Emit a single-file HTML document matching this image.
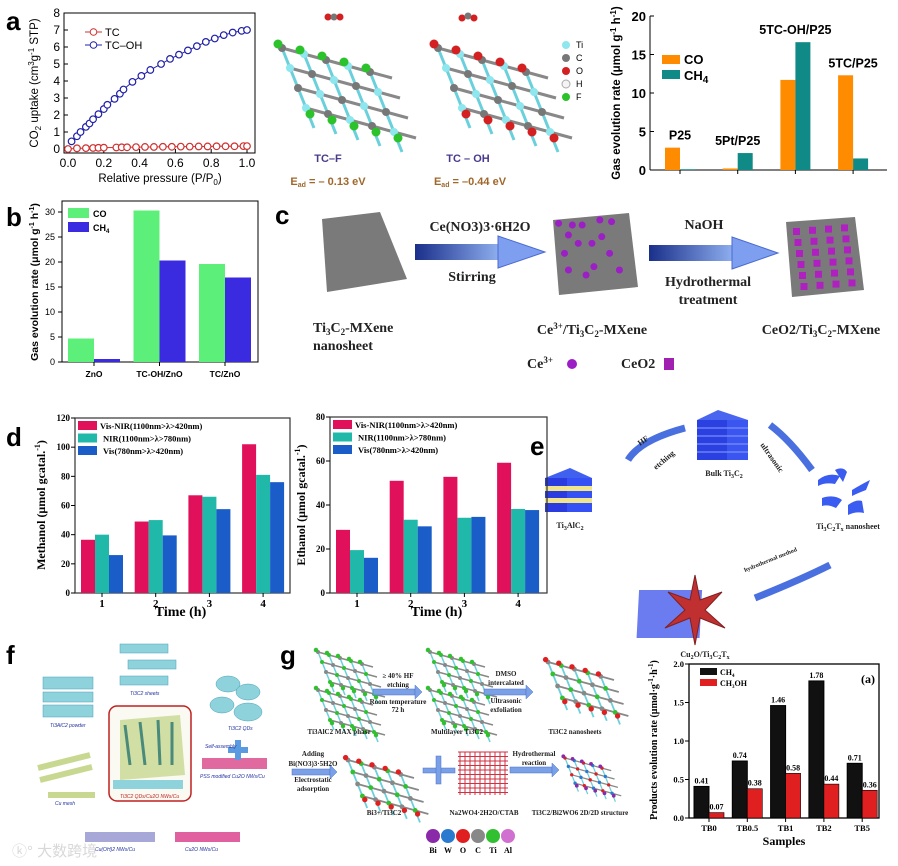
<!DOCTYPE html>
<html><head><meta charset="utf-8">
<style>
html,body{margin:0;padding:0;background:#fff;}
svg{display:block;}
text{font-family:"Liberation Sans","Noto Sans CJK SC",sans-serif;}
.sr,.sr text{font-family:"Liberation Serif","Noto Serif CJK SC",serif;font-weight:bold;}
</style></head>
<body>
<svg id="fig" width="898" height="866" viewBox="0 0 898 866" xmlns="http://www.w3.org/2000/svg">
<defs>
<linearGradient id="arr" x1="0" x2="1"><stop offset="0" stop-color="#1a2f8a"/><stop offset="1" stop-color="#8fb0f0"/></linearGradient>
</defs>
<g font-weight="bold" font-size="26">
<text x="6" y="30">a</text>
<text x="6" y="226">b</text>
<text x="275" y="224">c</text>
<text x="6" y="446">d</text>
<text x="530" y="455">e</text>
<text x="6" y="664">f</text>
<text x="280" y="664">g</text>
</g>
<g id="mol"></g>
<g font-size="9">
<circle cx="566" cy="45" r="4" fill="#8ee6ee"/><text x="576" y="48">Ti</text>
<circle cx="566" cy="58" r="4" fill="#777"/><text x="576" y="61">C</text>
<circle cx="566" cy="71" r="4" fill="#d42020"/><text x="576" y="74">O</text>
<circle cx="566" cy="84" r="4" fill="#f4f4f4" stroke="#aaa"/><text x="576" y="87">H</text>
<circle cx="566" cy="97" r="4" fill="#2bc22b"/><text x="576" y="100">F</text>
</g>
<g font-weight="bold" font-size="11">
<text x="328" y="162" fill="#4a3a8c" text-anchor="middle">TC–F</text>
<text x="328" y="185" fill="#a0662a" text-anchor="middle">E<tspan font-size="7" dy="2">ad</tspan><tspan dy="-2"> = – 0.13 eV</tspan></text>
<text x="468" y="162" fill="#4a3a8c" text-anchor="middle">TC – OH</text>
<text x="470" y="185" fill="#a0662a" text-anchor="middle">E<tspan font-size="7" dy="2">ad</tspan><tspan dy="-2"> = –0.44 eV</tspan></text>
</g>

<g>
<polygon points="322,219 380,212 407,279 327,292" fill="#7a7a7a"/>
<polygon points="553,220 629,213 638,287 559,295" fill="#7a7a7a"/>
<polygon points="786,222 855,217 864,290 792,297" fill="#7a7a7a"/>
<g><rect x="415" y="244" width="85" height="16" fill="url(#arr)"/><polygon points="498,236 545,252 498,268" fill="#7e9ef0" stroke="#4a6ad0"/></g>
<g><rect x="649" y="245" width="85" height="16" fill="url(#arr)"/><polygon points="732,237 778,253 732,269" fill="#7e9ef0" stroke="#4a6ad0"/></g>
<g id="cedots"></g>
<g id="cecubes"></g>
<g class="sr" font-size="14" fill="#222">
<text x="480" y="231" text-anchor="middle">Ce(NO3)3·6H2O</text>
<text x="472" y="281" text-anchor="middle">Stirring</text>
<text x="704" y="229" text-anchor="middle">NaOH</text>
<text x="708" y="286" text-anchor="middle">Hydrothermal</text>
<text x="708" y="304" text-anchor="middle">treatment</text>
<text x="313" y="332">Ti<tspan font-size="9" dy="3">3</tspan><tspan dy="-3">C</tspan><tspan font-size="9" dy="3">2</tspan><tspan dy="-3">-MXene</tspan></text>
<text x="313" y="350">nanosheet</text>
<text x="592" y="334" text-anchor="middle">Ce<tspan font-size="9" dy="-5">3+</tspan><tspan dy="5">/Ti</tspan><tspan font-size="9" dy="3">3</tspan><tspan dy="-3">C</tspan><tspan font-size="9" dy="3">2</tspan><tspan dy="-3">-MXene</tspan></text>
<text x="821" y="334" text-anchor="middle">CeO2/Ti<tspan font-size="9" dy="3">3</tspan><tspan dy="-3">C</tspan><tspan font-size="9" dy="3">2</tspan><tspan dy="-3">-MXene</tspan></text>
<text x="527" y="368">Ce<tspan font-size="9" dy="-5">3+</tspan></text>
<text x="621" y="368">CeO2</text>
</g>
<circle cx="572" cy="364" r="5" fill="#9b1fc4"/>
<rect x="664" y="358" width="10" height="12" fill="#a020b0"/>
</g>

<g>
<g>
<polygon points="545,478 570,468 592,478 567,488" fill="#4060f0"/>
<rect x="545" y="478" width="22" height="34" fill="#2a3ce0"/><rect x="567" y="478" width="25" height="34" fill="#3550f5"/>
<rect x="545" y="486" width="47" height="5" fill="#f0e58a"/><rect x="545" y="498" width="47" height="5" fill="#f0e58a"/>
</g>
<g>
<polygon points="697,420 718,410 748,420 727,430" fill="#4a66f0"/>
<rect x="697" y="420" width="30" height="40" fill="#2a40e0"/><rect x="727" y="420" width="21" height="40" fill="#3a55f0"/>
<line x1="697" y1="428" x2="748" y2="428" stroke="#8aa0ff"/><line x1="697" y1="436" x2="748" y2="436" stroke="#8aa0ff"/><line x1="697" y1="444" x2="748" y2="444" stroke="#8aa0ff"/><line x1="697" y1="452" x2="748" y2="452" stroke="#8aa0ff"/>
</g>
<path d="M628,460 Q640,440 685,428" stroke="#4a70e0" stroke-width="7" fill="none"/>
<path d="M770,425 Q790,440 812,470" stroke="#4a70e0" stroke-width="7" fill="none"/>
<path d="M830,565 Q800,580 755,598" stroke="#4a70e0" stroke-width="7" fill="none"/>
<g fill="#3a5cf0">
<path d="M818,480 q10,-8 22,-4 l-5,8 q-10,-2 -17,2z"/><path d="M835,470 q8,-4 12,2 l-4,10z"/><path d="M852,490 q10,-6 18,-10 l-4,10 q-8,3 -14,6z"/><path d="M822,498 q12,-4 20,2 l-6,8 q-8,-4 -14,-2z"/><path d="M848,505 q8,-6 14,-4 l2,12 q-8,-2 -16,2z"/>
</g>
<rect x="670" y="590" width="63" height="48" fill="#6a7cf0" transform="skewX(-3)"/>
<polygon points="695,575 700,600 722,592 705,610 725,628 700,618 695,645 690,618 665,628 685,610 668,592 690,600" fill="#c03030" stroke="#802020"/>
<g class="sr" font-size="8" fill="#222">
<text x="570" y="528" text-anchor="middle">Ti<tspan font-size="6" dy="2">3</tspan><tspan dy="-2">AlC</tspan><tspan font-size="6" dy="2">2</tspan></text>
<text x="724" y="476" text-anchor="middle">Bulk Ti<tspan font-size="6" dy="2">3</tspan><tspan dy="-2">C</tspan><tspan font-size="6" dy="2">2</tspan></text>
<text x="848" y="529" text-anchor="middle">Ti<tspan font-size="6" dy="2">3</tspan><tspan dy="-2">C</tspan><tspan font-size="6" dy="2">2</tspan><tspan dy="-2">T</tspan><tspan font-size="6" dy="2">x</tspan><tspan dy="-2"> nanosheet</tspan></text>
<text x="705" y="657" text-anchor="middle">Cu<tspan font-size="6" dy="2">2</tspan><tspan dy="-2">O/Ti</tspan><tspan font-size="6" dy="2">3</tspan><tspan dy="-2">C</tspan><tspan font-size="6" dy="2">2</tspan><tspan dy="-2">T</tspan><tspan font-size="6" dy="2">x</tspan></text>
<text x="640" y="446" transform="rotate(-35 640 446)">HF</text>
<text x="656" y="470" transform="rotate(-40 656 470)">etching</text>
<text x="760" y="445" transform="rotate(55 760 445)">ultrasonic</text>
<text x="745" y="572" transform="rotate(-22 745 572)" font-size="6">hydrothermal method</text>
</g>
</g>

<g>
<g fill="#8ed3dc" stroke="#4aa0b8" stroke-width="0.5">
<rect x="43" y="677" width="50" height="12"/><rect x="43" y="692" width="50" height="10"/><rect x="43" y="705" width="50" height="12"/>
<rect x="120" y="644" width="48" height="9"/><rect x="128" y="660" width="48" height="9"/><rect x="120" y="676" width="48" height="9"/>
<ellipse cx="228" cy="684" rx="12" ry="8"/><ellipse cx="248" cy="692" rx="12" ry="8"/><ellipse cx="222" cy="705" rx="12" ry="8"/><ellipse cx="248" cy="712" rx="14" ry="9"/>
</g>
<rect x="109" y="706" width="82" height="95" rx="8" fill="#fafaf2" stroke="#c02020" stroke-width="1.5"/>
<polygon points="120,720 180,715 185,775 120,780" fill="#c8d890" opacity="0.8"/>
<g stroke="#4a8a7a" stroke-width="3"><line x1="130" y1="765" x2="125" y2="725"/><line x1="145" y1="765" x2="140" y2="722"/><line x1="160" y1="765" x2="158" y2="720"/><line x1="172" y1="765" x2="172" y2="722"/></g>
<rect x="113" y="780" width="70" height="9" fill="#8ed3dc"/>
<g stroke="#c8d890" stroke-width="6"><line x1="38" y1="768" x2="90" y2="755"/><line x1="40" y1="780" x2="92" y2="767"/><line x1="48" y1="795" x2="95" y2="795"/></g>
<rect x="202" y="758" width="65" height="11" fill="#e06aa0"/>
<rect x="85" y="832" width="70" height="10" fill="#a8a8d8"/><rect x="175" y="832" width="65" height="10" fill="#e060a0"/>
<rect x="235" y="740" width="6" height="20" fill="#5a9ae0"/><rect x="228" y="747" width="20" height="6" fill="#5a9ae0"/>
<g font-size="5" fill="#2030a0" font-style="italic">
<text x="50" y="727">Ti3AlC2 powder</text><text x="130" y="695">Ti3C2 sheets</text><text x="228" y="730">Ti3C2 QDs</text>
<text x="120" y="798" fill="#c02020">Ti3C2 QDs/Cu2O NWs/Cu</text><text x="200" y="778">PSS modified Cu2O NWs/Cu</text>
<text x="55" y="805">Cu mesh</text><text x="95" y="851">Cu(OH)2 NWs/Cu</text><text x="185" y="851">Cu2O NWs/Cu</text><text x="205" y="748">Self-assembly</text>
</g>
<text x="12" y="856" font-size="15" fill="#d8d8d8">ⓚ° 大数跨境</text>
</g>

<g>
<g id="gmol"></g>
<g fill="#7aa0e8" stroke="#4a70c8" stroke-width="0.5">
<rect x="373" y="689" width="42" height="6"/><polygon points="415,685 422,692 415,699"/>
<rect x="484" y="689" width="42" height="6"/><polygon points="526,685 533,692 526,699"/>
<rect x="292" y="769" width="38" height="6"/><polygon points="330,765 337,772 330,779"/>
<rect x="510" y="767" width="42" height="6"/><polygon points="552,763 559,770 552,777"/>
<rect x="423" y="768" width="32" height="5"/><rect x="436" y="756" width="5" height="28"/>
</g>
<g class="sr" font-size="7" fill="#222" text-anchor="middle">
<text x="398" y="678">≥ 40% HF</text><text x="398" y="687">etching</text><text x="398" y="704">Room temperature</text><text x="398" y="712">72 h</text>
<text x="506" y="676">DMSO</text><text x="506" y="685">intercalated</text><text x="506" y="703">Ultrasonic</text><text x="506" y="712">exfoliation</text>
<text x="339" y="734">Ti3AlC2 MAX phase</text><text x="457" y="734">Multilayer Ti3C2</text><text x="575" y="734">Ti3C2 nanosheets</text>
<text x="313" y="756">Adding</text><text x="313" y="766">Bi(NO3)3·5H2O</text><text x="313" y="782">Electrostatic</text><text x="313" y="791">adsorption</text>
<text x="534" y="756">Hydrothermal</text><text x="534" y="765">reaction</text>
<text x="384" y="815">Bi3+/Ti3C2</text><text x="484" y="815">Na2WO4·2H2O/CTAB</text><text x="580" y="815">Ti3C2/Bi2WO6 2D/2D structure</text>
</g>
<g class="sr" font-size="8" text-anchor="middle">
<circle cx="433" cy="836" r="7" fill="#8a2aa8"/><text x="433" y="853">Bi</text>
<circle cx="448" cy="836" r="7" fill="#2a7ad0"/><text x="448" y="853">W</text>
<circle cx="463" cy="836" r="7" fill="#e02020"/><text x="463" y="853">O</text>
<circle cx="478" cy="836" r="7" fill="#888"/><text x="478" y="853">C</text>
<circle cx="493" cy="836" r="7" fill="#30c030"/><text x="493" y="853">Ti</text>
<circle cx="508" cy="836" r="7" fill="#d070d0"/><text x="508" y="853">Al</text>
</g>
</g>

<g id="charts"></g>
</svg>
<script>
const isoP_OH=[0.02,0.05,0.07,0.10,0.12,0.14,0.17,0.20,0.22,0.26,0.29,0.31,0.36,0.41,0.46,0.52,0.57,0.62,0.67,0.72,0.77,0.82,0.87,0.92,0.97,1.0];
const isoV_OH=[0.45,0.75,1.0,1.3,1.5,1.75,2.05,2.35,2.6,2.95,3.25,3.5,3.95,4.3,4.65,5.0,5.3,5.55,5.8,6.05,6.3,6.5,6.7,6.85,6.95,7.0];
const isoP_TC=[0.0,0.05,0.1,0.14,0.17,0.2,0.27,0.3,0.33,0.38,0.43,0.48,0.53,0.58,0.63,0.68,0.73,0.78,0.83,0.88,0.93,0.98,1.0];
const isoV_TC=[0.0,0.04,0.05,0.06,0.07,0.08,0.09,0.1,0.1,0.11,0.12,0.12,0.13,0.13,0.14,0.14,0.15,0.15,0.16,0.16,0.16,0.17,0.17];
const isoXTicks=[0,0.2,0.4,0.6,0.8,1.0];
const isoYTicks=[0,1,2,3,4,5,6,7,8];

const p25Cats=["P25","5Pt/P25","5TC-OH/P25","5TC/P25"];
const p25CO=[2.9,0.2,11.7,12.3];
const p25CH4=[0.1,2.2,16.6,1.5];
const p25YTicks=[0,5,10,15,20];

const znoCats=["ZnO","TC-OH/ZnO","TC/ZnO"];
const znoCO=[4.7,30.3,19.6];
const znoCH4=[0.6,20.3,16.9];
const znoYTicks=[0,5,10,15,20,25,30];

const timeCats=["1","2","3","4"];
const methVisNIR=[36.5,49,67,102];
const methNIR=[40,50,66,81];
const methVis=[26,39.5,57.5,76];
const methYTicks=[0,20,40,60,80,100,120];
const ethVisNIR=[28.7,51,52.8,59.2];
const ethNIR=[19.5,33.3,34.2,38.2];
const ethVis=[16,30.3,34.6,37.7];
const ethYTicks=[0,20,40,60,80];

const tbCats=["TB0","TB0.5","TB1","TB2","TB5"];
const tbCH4=[0.41,0.74,1.46,1.78,0.71];
const tbMeOH=[0.07,0.38,0.58,0.44,0.36];
const tbYTicks=[0.0,0.5,1.0,1.5,2.0];

const NS="http://www.w3.org/2000/svg";
const root=document.getElementById('charts');
function el(tag,attrs,parent,txt){const e=document.createElementNS(NS,tag);for(const k in attrs)e.setAttribute(k,attrs[k]);if(txt!==undefined)e.textContent=txt;(parent||root).appendChild(e);return e;}
function group(name){const g=el('g',{});


return g;}

(function(){
 const g=group('co2-uptake-chart');
 const x=v=>68+v*179, y=v=>149-v*17;
 el('rect',{x:64,y:13,width:191,height:140,fill:'none',stroke:'#000','stroke-width':1},g);
 isoXTicks.forEach(t=>{el('line',{x1:x(t),y1:153,x2:x(t),y2:149,stroke:'#000'},g);
  const l=el('text',{x:x(t),y:167,'font-size':12,'text-anchor':'middle'},g,t.toFixed(1));
  
  });
 isoYTicks.forEach(t=>{el('line',{x1:64,y1:y(t),x2:68,y2:y(t),stroke:'#000'},g);
  const l=el('text',{x:60,y:y(t)+4,'font-size':12,'text-anchor':'end'},g,t);
  
  });
 const series=[[isoP_TC,isoV_TC,'#d03030','tc-series'],[isoP_OH,isoV_OH,'#2020a8','tc-oh-series']];
 series.forEach(s=>{const sg=el('g',{},g);
  
  
  el('polyline',{points:s[0].map((p,i)=>x(p)+','+y(s[1][i])).join(' '),fill:'none',stroke:s[2],'stroke-width':1},sg);
  s[0].forEach((p,i)=>{const c=el('circle',{cx:x(p),cy:y(s[1][i]),r:3.3,fill:'#fff',stroke:s[2],'stroke-width':1.2},sg);
   
   });});
 const lg=el('g',{},g);
 
 
 [['TC','#d03030',32],['TC–OH','#2020a8',45]].forEach(e=>{el('line',{x1:85,y1:e[2],x2:102,y2:e[2],stroke:e[1]},lg);el('circle',{cx:93.5,cy:e[2],r:3.3,fill:'#fff',stroke:e[1]},lg);el('text',{x:105,y:e[2]+4,'font-size':11},lg,e[0]);});
 const yl=el('text',{x:0,y:0,'font-size':11.5,'text-anchor':'middle',transform:'translate(38,83) rotate(-90)'},g);
 yl.innerHTML='CO<tspan font-size="8" dy="3">2</tspan><tspan dy="-3"> uptake (cm</tspan><tspan font-size="8" dy="-4">3</tspan><tspan dy="4">g</tspan><tspan font-size="8" dy="-4">-1</tspan><tspan dy="4"> STP)</tspan>';
 
 
 const xl=el('text',{x:160,y:182,'font-size':11.5,'text-anchor':'middle'},g);
 xl.innerHTML='Relative pressure (P/P<tspan font-size="8" dy="3">0</tspan><tspan dy="-3">)</tspan>';
 
 
})();

(function(){
 const g=group('p25-gas-evolution-chart');
 const xc=i=>680+57.7*i, y=v=>170-7.7*v, bw=15;
 el('line',{x1:650,y1:16,x2:650,y2:170,stroke:'#000'},g);
 el('line',{x1:650,y1:170,x2:887,y2:170,stroke:'#000'},g);
 p25YTicks.forEach(t=>{el('line',{x1:650,y1:y(t),x2:654,y2:y(t),stroke:'#000'},g);
  const l=el('text',{x:646,y:y(t)+5,'font-size':13,'font-weight':'bold','text-anchor':'end'},g,t);
  
  });
 p25Cats.forEach((c,i)=>{
  el('line',{x1:xc(i),y1:170,x2:xc(i),y2:174,stroke:'#000'},g);
  const b1=el('rect',{x:xc(i)-bw,y:y(p25CO[i]),width:bw,height:170-y(p25CO[i]),fill:'#ff8c00'},g);
  
  
  const b2=el('rect',{x:xc(i),y:y(p25CH4[i]),width:bw,height:170-y(p25CH4[i]),fill:'#108a86'},g);
  
  
  const l=el('text',{x:xc(i),y:y(Math.max(p25CO[i],p25CH4[i]))-8,'font-size':12.5,'font-weight':'bold','text-anchor':'middle'},g,c);
  
  });
 const lg=el('g',{},g);
 
 
 el('rect',{x:662,y:55,width:18,height:9,fill:'#ff8c00'},lg);el('text',{x:684,y:64,'font-size':13,'font-weight':'bold'},lg,'CO');
 el('rect',{x:662,y:70,width:18,height:9,fill:'#108a86'},lg);
 const t=el('text',{x:684,y:80,'font-size':13,'font-weight':'bold'},lg);t.innerHTML='CH<tspan font-size="10" dy="3">4</tspan>';
 const yl=el('text',{x:0,y:0,'font-size':11.5,'font-weight':'bold','text-anchor':'middle',transform:'translate(620,93) rotate(-90)'},g);
 yl.innerHTML='Gas evolution rate (μmol g<tspan font-size="8" dy="-4">-1</tspan><tspan dy="4"> h</tspan><tspan font-size="8" dy="-4">-1</tspan><tspan dy="4">)</tspan>';
 
 
})();

(function(){
 const g=group('zno-gas-evolution-chart');
 const xc=i=>94+65.5*i, y=v=>362-5*v, bw=26;
 el('rect',{x:62,y:201,width:196,height:161,fill:'none',stroke:'#000'},g);
 znoYTicks.forEach(t=>{el('line',{x1:62,y1:y(t),x2:58,y2:y(t),stroke:'#000'},g);
  const l=el('text',{x:55,y:y(t)+3,'font-size':9,'text-anchor':'end'},g,t);
  
  });
 znoCats.forEach((c,i)=>{
  el('line',{x1:xc(i),y1:362,x2:xc(i),y2:366,stroke:'#000'},g);
  const b1=el('rect',{x:xc(i)-bw,y:y(znoCO[i]),width:bw,height:362-y(znoCO[i]),fill:'#5cf07a'},g);
  
  
  const b2=el('rect',{x:xc(i),y:y(znoCH4[i]),width:bw,height:362-y(znoCH4[i]),fill:'#3a2ae0'},g);
  
  
  const l=el('text',{x:xc(i),y:377,'font-size':8.5,'font-weight':'bold','text-anchor':'middle'},g,c);
  
  });
 const lg=el('g',{},g);
 
 
 el('rect',{x:68,y:208,width:21,height:10,fill:'#5cf07a'},lg);el('text',{x:93,y:217,'font-size':9,'font-weight':'bold'},lg,'CO');
 el('rect',{x:68,y:222,width:21,height:10,fill:'#3a2ae0'},lg);
 const t=el('text',{x:93,y:231,'font-size':9,'font-weight':'bold'},lg);t.innerHTML='CH<tspan font-size="6" dy="2">4</tspan>';
 const yl=el('text',{x:0,y:0,'font-size':10.5,'font-weight':'bold','text-anchor':'middle',transform:'translate(38,282) rotate(-90)'},g);
 yl.innerHTML='Gas evolution rate (μmol g<tspan font-size="7" dy="-4">-1</tspan><tspan dy="4"> h</tspan><tspan font-size="7" dy="-4">-1</tspan><tspan dy="4">)</tspan>';
 
 
})();

function alcoholChart(name,left,right,top,firstX,yMax,ticks,s1,s2,s3,title,titleX){
 const g=group(name);
 const bottom=593, xc=i=>firstX+53.7*i, y=v=>bottom-(bottom-top)*v/yMax, bw=14;
 el('rect',{x:left,y:top,width:right-left,height:bottom-top,fill:'none',stroke:'#333','stroke-width':1.2},g);
 ticks.forEach(t=>{el('line',{x1:left,y1:y(t),x2:left-4,y2:y(t),stroke:'#000'},g);
  const l=el('text',{x:left-5,y:y(t)+3,'font-size':9,'text-anchor':'end','class':'sr'},g,t);
  
  });
 const cols=['#e0105a','#20b8a8','#1a5cc8'];
 timeCats.forEach((c,i)=>{
  [s1,s2,s3].forEach((s,k)=>{
   const b=el('rect',{x:xc(i)-bw*1.5+k*bw,y:y(s[i]),width:bw,height:bottom-y(s[i]),fill:cols[k]},g);
   
   });
  el('line',{x1:xc(i),y1:bottom,x2:xc(i),y2:bottom+4,stroke:'#000'},g);
  const l=el('text',{x:xc(i),y:bottom+14,'font-size':11,'text-anchor':'middle','class':'sr'},g,c);
  
  });
 const lg=el('g',{},g);
 
 
 ['Vis-NIR(1100nm>λ>420nm)','NIR(1100nm>λ>780nm)','Vis(780nm>λ>420nm)'].forEach((txt,k)=>{
  el('rect',{x:left+3,y:top+3+k*12.5,width:19,height:9,fill:cols[k]},lg);
  el('text',{x:left+25+(k==0?0:3),y:top+11+k*12.5,'font-size':8.5,'class':'sr'},lg,txt);});
 const yl=el('text',{x:0,y:0,'font-size':12,'class':'sr','text-anchor':'middle',transform:'translate('+titleX+',505) rotate(-90)'},g);
 yl.innerHTML=title+' (μmol gcatal.<tspan font-size="8" dy="-5">-1</tspan><tspan dy="5">)</tspan>';
 
 
 const xl=el('text',{x:(left+right)/2-2,y:616,'font-size':14,'class':'sr','text-anchor':'middle'},g,'Time (h)');
 
 
}
alcoholChart('methanol-chart',75,290,418,102,120,methYTicks,methVisNIR,methNIR,methVis,'Methanol',45);
alcoholChart('ethanol-chart',330,547,417,357,80,ethYTicks,ethVisNIR,ethNIR,ethVis,'Ethanol',305);

(function(){
 const g=group('products-evolution-chart');
 const xc=i=>709+38.3*i, y=v=>818-77*v, bw=15;
 el('rect',{x:689,y:664,width:190,height:154,fill:'none',stroke:'#000','stroke-width':1.3},g);
 tbYTicks.forEach(t=>{el('line',{x1:689,y1:y(t),x2:685,y2:y(t),stroke:'#000'},g);
  const l=el('text',{x:684,y:y(t)+3,'font-size':8.5,'text-anchor':'end','class':'sr'},g,t.toFixed(1));
  
  });
 tbCats.forEach((c,i)=>{
  const b1=el('rect',{x:xc(i)-bw,y:y(tbCH4[i]),width:bw,height:818-y(tbCH4[i]),fill:'#111',stroke:'#000'},g);
  
  
  const b2=el('rect',{x:xc(i),y:y(tbMeOH[i]),width:bw,height:818-y(tbMeOH[i]),fill:'#e02020',stroke:'#000','stroke-width':0.6},g);
  
  
  const v1=el('text',{x:xc(i)-bw/2,y:y(tbCH4[i])-3,'font-size':8,'text-anchor':'middle','class':'sr'},g,tbCH4[i].toFixed(2));
  
  
  const v2=el('text',{x:xc(i)+bw/2,y:y(tbMeOH[i])-3,'font-size':8,'text-anchor':'middle','class':'sr'},g,tbMeOH[i].toFixed(2));
  
  
  el('line',{x1:xc(i),y1:818,x2:xc(i),y2:822,stroke:'#000'},g);
  const l=el('text',{x:xc(i),y:831,'font-size':8.5,'text-anchor':'middle','class':'sr'},g,c);
  
  });
 const lg=el('g',{},g);
 
 
 el('rect',{x:700,y:668,width:17,height:7,fill:'#111'},lg);
 let t=el('text',{x:720,y:675,'font-size':8,'class':'sr'},lg);t.innerHTML='CH<tspan font-size="5" dy="2">4</tspan>';
 el('rect',{x:700,y:679,width:17,height:7,fill:'#e02020'},lg);
 t=el('text',{x:720,y:686,'font-size':8,'class':'sr'},lg);t.innerHTML='CH<tspan font-size="5" dy="2">3</tspan><tspan dy="-2">OH</tspan>';
 el('text',{x:875,y:683,'font-size':12,'class':'sr','text-anchor':'end'},g,'(a)');
 const yl=el('text',{x:0,y:0,'font-size':10,'class':'sr','text-anchor':'middle',transform:'translate(657,740) rotate(-90)'},g);
 yl.innerHTML='Products evolution rate (μmol·g<tspan font-size="7" dy="-4">-1</tspan><tspan dy="4">·h</tspan><tspan font-size="7" dy="-4">-1</tspan><tspan dy="4">)</tspan>';
 
 
 const xl=el('text',{x:784,y:845,'font-size':12,'class':'sr','text-anchor':'middle'},g,'Samples');
 
 
})();

function lattice(parent,ox,oy,scale,colA,colB,edge){
 for(let r=0;r<4;r++)for(let c=0;c<5;c++){
  const x=ox+c*22*scale+r*8*scale, y=oy+r*20*scale+c*6*scale;
  el('line',{x1:x,y1:y,x2:x+22*scale,y2:y+6*scale,stroke:'#888','stroke-width':3*scale},parent);
  el('line',{x1:x,y1:y,x2:x+8*scale,y2:y+20*scale,stroke:'#6ad0dc','stroke-width':3*scale},parent);
 }
 for(let r=0;r<4;r++)for(let c=0;c<5;c++){
  const x=ox+c*22*scale+r*8*scale, y=oy+r*20*scale+c*6*scale;
  el('circle',{cx:x,cy:y,r:4*scale,fill:(r+c)%2?colA:colB},parent);
 }
 for(let c=0;c<5;c++){
  el('circle',{cx:ox+c*22*scale-4*scale,cy:oy-4*scale+c*6*scale,r:4.5*scale,fill:edge},parent);
  el('circle',{cx:ox+c*22*scale+28*scale,cy:oy+66*scale+c*6*scale,r:4.5*scale,fill:edge},parent);
 }
}
const mol=document.getElementById('mol');
lattice(mol,282,48,1,'#8ee6ee','#777','#2bc22b');
lattice(mol,438,48,1,'#8ee6ee','#777','#d42020');
[[328,17,'#d42020'],[334,17,'#777'],[340,17,'#d42020'],[462,18,'#d42020'],[468,16,'#777'],[474,18,'#d42020']].forEach(a=>el('circle',{cx:a[0],cy:a[1],r:3.5,fill:a[2]},mol));
const gm=document.getElementById('gmol');
lattice(gm,318,652,0.5,'#30c030','#888','#30c030');lattice(gm,318,690,0.5,'#30c030','#888','#30c030');
lattice(gm,430,652,0.5,'#30c030','#888','#30c030');lattice(gm,430,690,0.5,'#30c030','#888','#30c030');
lattice(gm,548,662,0.6,'#30c030','#888','#e02020');
lattice(gm,348,760,0.6,'#30c030','#888','#e02020');
lattice(gm,565,758,0.42,'#2a7ad0','#e02020','#8a2aa8');
for(let i=0;i<10;i++){el('line',{x1:460+i*5,y1:752,x2:460+i*5,y2:795,stroke:'#d03040','stroke-width':1},gm);el('line',{x1:458,y1:752+i*4.5,x2:508,y2:752+i*4.5,stroke:'#d03040','stroke-width':1},gm);}
const cd=document.getElementById('cedots');
[[685,100],[720,105],[745,105],[790,90],[820,95],[710,135],[735,160],[770,160],[795,140],[700,190],[815,190],[710,240],[755,255],[775,230],[840,240]].forEach(p=>el('circle',{cx:290+p[0]/2.55,cy:190+p[1]/3,r:3.5,fill:'#9b1fc4'},cd));
const cc=document.getElementById('cecubes');
for(let r=0;r<6;r++)for(let c=0;c<4;c++)el('rect',{x:793+c*16+r*1.5,y:228+r*11-c*1.2,width:7,height:7,fill:'#b020c0'},cc);
</script>
</body></html>
